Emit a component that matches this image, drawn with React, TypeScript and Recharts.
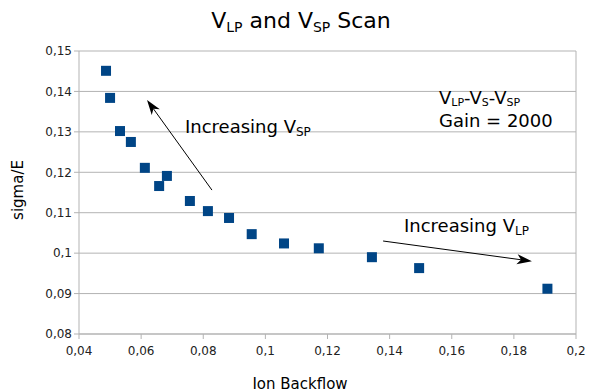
import {
  ScatterChart,
  Scatter,
  XAxis,
  YAxis,
  CartesianGrid,
  ReferenceLine,
} from 'recharts';

// Ion backflow (x) vs sigma/E (y)
const ionBackflow = [
  0.0487, 0.05, 0.0532, 0.0567, 0.0612, 0.0658, 0.0683, 0.0757, 0.0815, 0.0883,
  0.0956, 0.106, 0.1172, 0.1343, 0.1495, 0.1908,
];
const sigmaE = [
  0.1451, 0.1384, 0.1302, 0.1275, 0.1211, 0.1166, 0.1191, 0.1129, 0.1104, 0.1087,
  0.1047, 0.1024, 0.1012, 0.099, 0.0963, 0.0912,
];

const xTicks = [0.04, 0.06, 0.08, 0.1, 0.12, 0.14, 0.16, 0.18, 0.2];
const yTicks = [0.08, 0.09, 0.1, 0.11, 0.12, 0.13, 0.14, 0.15];

// arrows in data coordinates: [from, to]
const arrowSP = [
  { x: 0.0828, y: 0.1156 },
  { x: 0.0619, y: 0.1379 },
];
const arrowLP = [
  { x: 0.1379, y: 0.103 },
  { x: 0.1858, y: 0.098 },
];

const data = ionBackflow.map((x, i) => ({ x, y: sigmaE[i] }));

const FONT = '"DejaVu Sans", Verdana, sans-serif';
const GRID = '#b3b3b3';
const fmt = (v: number) => String(v).replace('.', ',');

const Square = (p: any) => (
  <rect x={p.cx - 5} y={p.cy - 5} width={10} height={10} fill="#004586" />
);

const Arrow = (p: any) => {
  const { x1, y1, x2, y2 } = p;
  const a = Math.atan2(y2 - y1, x2 - x1);
  const L = 15;
  const W = 5;
  const bx = x2 - L * Math.cos(a);
  const by = y2 - L * Math.sin(a);
  const px = -Math.sin(a) * W;
  const py = Math.cos(a) * W;
  const nx = bx + 4 * Math.cos(a);
  const ny = by + 4 * Math.sin(a);
  return (
    <g>
      <line x1={x1} y1={y1} x2={nx} y2={ny} stroke="#000" strokeWidth={1} />
      <polygon
        points={`${x2},${y2} ${bx + px},${by + py} ${nx},${ny} ${bx - px},${by - py}`}
        fill="#000"
      />
    </g>
  );
};

export default function App() {
  return (
    <div style={{ position: 'absolute', left: 0, top: 0, width: 590, height: 392, background: '#fff' }}>
      <ScatterChart
        width={590}
        height={392}
        margin={{ top: 51, right: 14, bottom: 28, left: 29 }}
      >
        <CartesianGrid horizontal vertical={false} stroke={GRID} />
        <XAxis
          type="number"
          dataKey="x"
          domain={[0.04, 0.2]}
          ticks={xTicks}
          tickFormatter={fmt}
          stroke={GRID}
          tick={{ fill: '#222', fontSize: 12, fontFamily: FONT }}
          tickSize={5}
          tickMargin={7}
          height={30}
          allowDataOverflow
        />
        <YAxis
          type="number"
          dataKey="y"
          domain={[0.08, 0.15]}
          ticks={yTicks}
          tickFormatter={fmt}
          stroke={GRID}
          tick={{ fill: '#222', fontSize: 12, fontFamily: FONT }}
          tickSize={5}
          tickMargin={2}
          width={50}
          allowDataOverflow
        />
        <ReferenceLine x={0.2} stroke={GRID} />
        <ReferenceLine segment={arrowSP} shape={Arrow} />
        <ReferenceLine segment={arrowLP} shape={Arrow} />
        <Scatter data={data} shape={Square} isAnimationActive={false} />
      </ScatterChart>
      <svg
        width={590}
        height={392}
        style={{ position: 'absolute', left: 0, top: 0, pointerEvents: 'none' }}
        fontFamily={FONT}
        fill="#000"
      >
        <text x={301} y={28} fontSize={22} textAnchor="middle">
          V<tspan fontSize={14} dy={4}>LP</tspan>
          <tspan dy={-4}> and V</tspan>
          <tspan fontSize={14} dy={4}>SP</tspan>
          <tspan dy={-4}> Scan</tspan>
        </text>
        <text x={185} y={133} fontSize={18}>
          Increasing V<tspan fontSize={12} dy={3}>SP</tspan>
        </text>
        <text x={404} y={232} fontSize={18}>
          Increasing V<tspan fontSize={12} dy={3}>LP</tspan>
        </text>
        <text x={439} y={104} fontSize={18}>
          V<tspan fontSize={11} dy={2}>LP</tspan>
          <tspan dy={-2}>-V</tspan>
          <tspan fontSize={11} dy={2}>S</tspan>
          <tspan dy={-2}>-V</tspan>
          <tspan fontSize={11} dy={2}>SP</tspan>
        </text>
        <text x={439} y={127} fontSize={18}>
          Gain = 2000
        </text>
        <text x={300} y={389} fontSize={15} textAnchor="middle">
          Ion Backflow
        </text>
        <text x={23} y={190} fontSize={15} textAnchor="middle" transform="rotate(-90 23 190)">
          sigma/E
        </text>
      </svg>
    </div>
  );
}
